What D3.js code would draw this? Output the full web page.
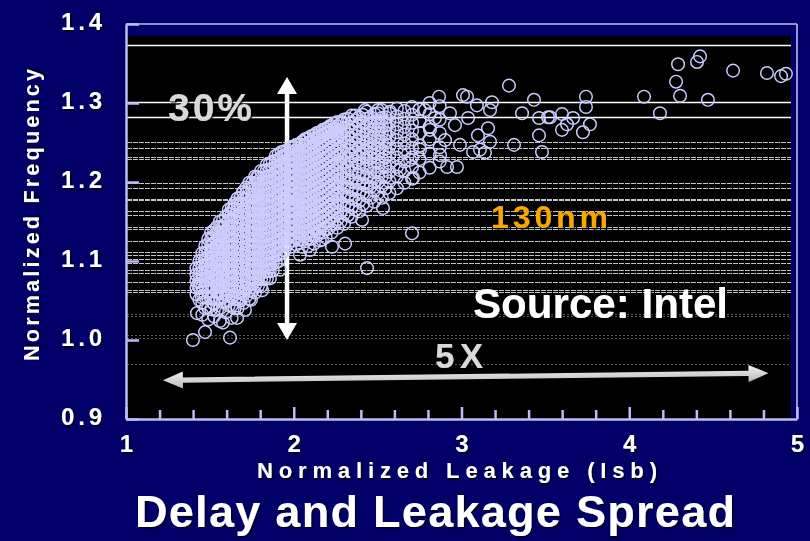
<!DOCTYPE html>
<html><head><meta charset="utf-8">
<script src="https://cdn.jsdelivr.net/npm/d3@7"></script>
<style>html,body{margin:0;padding:0;background:#000068;}svg{display:block}</style>
</head><body>
<svg id="chart" width="810" height="541"></svg>
<script>
// ---------- data ----------
const xTickLabels = [1, 2, 3, 4, 5];
const yTickValues = [0.9, 1.0, 1.1, 1.2, 1.3, 1.4];
const gridValues = [1.373, 1.301, 1.282, 1.250, 1.243, 1.232, 1.229, 1.199, 1.192, 1.179, 1.177,
  1.163, 1.158, 1.143, 1.141, 1.125, 1.111, 1.108, 1.102, 1.097, 1.088, 1.085, 1.074, 1.063,
  1.061, 1.033, 1.031, 1.006, 1.003, 0.969];

// dense part of the cloud, grouped by leakage column
const columnLeakage = [1.42, 1.455, 1.49, 1.525, 1.56, 1.595, 1.63, 1.665, 1.70, 1.735, 1.77, 1.805,
  1.84, 1.875, 1.91, 1.945, 1.98, 2.015, 2.05, 2.085, 2.12, 2.155, 2.19, 2.225, 2.26, 2.30, 2.345,
  2.39, 2.435, 2.48, 2.525, 2.57, 2.615, 2.66, 2.705, 2.75, 2.81, 2.87,
  1.4375, 1.4725, 1.5075, 1.5425, 1.5775, 1.6125, 1.6475, 1.6825, 1.7175, 1.7525, 1.7875, 1.8225,
  1.8575, 1.8925, 1.9275, 1.9625, 1.9975, 2.0325, 2.0675, 2.1025, 2.1375, 2.1725, 2.2075, 2.2425,
  2.28, 2.3225, 2.3675, 2.4125, 2.4575, 2.5025, 2.5475];
const columnFrequency = [
  [1.058, 1.066, 1.075, 1.083, 1.091],
  [1.032, 1.047, 1.060, 1.068, 1.076, 1.085, 1.093, 1.101, 1.110],
  [1.026, 1.041, 1.053, 1.062, 1.070, 1.078, 1.087, 1.095, 1.103, 1.112, 1.121, 1.128],
  [1.030, 1.046, 1.057, 1.065, 1.074, 1.082, 1.090, 1.098, 1.107, 1.115, 1.123, 1.132, 1.139],
  [1.024, 1.040, 1.052, 1.061, 1.069, 1.077, 1.086, 1.094, 1.102, 1.110, 1.118, 1.127, 1.135, 1.143, 1.150],
  [1.035, 1.048, 1.057, 1.065, 1.073, 1.081, 1.090, 1.098, 1.106, 1.114, 1.122, 1.131, 1.139, 1.147, 1.156],
  [1.028, 1.044, 1.054, 1.062, 1.070, 1.078, 1.086, 1.094, 1.102, 1.110, 1.118, 1.126, 1.134, 1.143, 1.151, 1.159, 1.167],
  [1.040, 1.052, 1.060, 1.068, 1.076, 1.084, 1.092, 1.100, 1.108, 1.116, 1.124, 1.132, 1.140, 1.148, 1.156, 1.164, 1.172, 1.179],
  [1.047, 1.058, 1.066, 1.074, 1.082, 1.090, 1.098, 1.106, 1.114, 1.122, 1.130, 1.138, 1.146, 1.154, 1.162, 1.170, 1.178, 1.187],
  [1.052, 1.063, 1.071, 1.079, 1.087, 1.095, 1.103, 1.111, 1.119, 1.127, 1.135, 1.143, 1.151, 1.159, 1.167, 1.175, 1.183, 1.191, 1.199],
  [1.060, 1.070, 1.078, 1.086, 1.094, 1.102, 1.110, 1.118, 1.126, 1.134, 1.142, 1.150, 1.158, 1.166, 1.174, 1.182, 1.190, 1.198, 1.207],
  [1.068, 1.077, 1.085, 1.093, 1.101, 1.109, 1.117, 1.125, 1.133, 1.141, 1.149, 1.157, 1.165, 1.173, 1.181, 1.189, 1.197, 1.205, 1.214],
  [1.078, 1.087, 1.095, 1.103, 1.111, 1.119, 1.127, 1.135, 1.143, 1.151, 1.159, 1.167, 1.175, 1.183, 1.191, 1.199, 1.207, 1.215, 1.222],
  [1.088, 1.097, 1.105, 1.113, 1.121, 1.129, 1.137, 1.145, 1.153, 1.161, 1.169, 1.177, 1.185, 1.193, 1.201, 1.209, 1.217, 1.226],
  [1.100, 1.108, 1.116, 1.124, 1.132, 1.140, 1.148, 1.156, 1.164, 1.172, 1.180, 1.188, 1.196, 1.204, 1.212, 1.220, 1.228, 1.235],
  [1.113, 1.121, 1.129, 1.137, 1.145, 1.153, 1.161, 1.169, 1.177, 1.185, 1.193, 1.201, 1.209, 1.217, 1.225, 1.233, 1.239],
  [1.118, 1.126, 1.134, 1.142, 1.150, 1.158, 1.166, 1.174, 1.182, 1.190, 1.198, 1.206, 1.214, 1.222, 1.230, 1.238, 1.244],
  [1.121, 1.129, 1.137, 1.145, 1.153, 1.161, 1.169, 1.177, 1.185, 1.193, 1.201, 1.209, 1.217, 1.225, 1.233, 1.240, 1.247],
  [1.118, 1.127, 1.135, 1.143, 1.151, 1.159, 1.167, 1.175, 1.183, 1.191, 1.199, 1.207, 1.215, 1.223, 1.231, 1.239, 1.246, 1.251],
  [1.119, 1.129, 1.137, 1.145, 1.153, 1.161, 1.169, 1.177, 1.185, 1.193, 1.201, 1.209, 1.217, 1.225, 1.233, 1.241, 1.249, 1.255],
  [1.122, 1.133, 1.141, 1.149, 1.157, 1.165, 1.173, 1.181, 1.189, 1.197, 1.205, 1.213, 1.221, 1.229, 1.237, 1.245, 1.253, 1.259],
  [1.126, 1.137, 1.145, 1.153, 1.161, 1.169, 1.177, 1.185, 1.193, 1.201, 1.209, 1.217, 1.225, 1.233, 1.241, 1.249, 1.257, 1.263],
  [1.130, 1.141, 1.150, 1.158, 1.166, 1.174, 1.182, 1.190, 1.198, 1.206, 1.214, 1.222, 1.230, 1.238, 1.246, 1.254, 1.261, 1.267],
  [1.136, 1.147, 1.156, 1.164, 1.172, 1.180, 1.188, 1.196, 1.204, 1.212, 1.220, 1.228, 1.236, 1.244, 1.252, 1.259, 1.265, 1.271],
  [1.142, 1.153, 1.162, 1.170, 1.178, 1.186, 1.194, 1.202, 1.210, 1.218, 1.226, 1.234, 1.242, 1.250, 1.257, 1.264, 1.270, 1.276],
  [1.147, 1.160, 1.171, 1.182, 1.193, 1.204, 1.215, 1.226, 1.237, 1.248, 1.258, 1.268, 1.279],
  [1.156, 1.168, 1.179, 1.190, 1.201, 1.212, 1.223, 1.234, 1.245, 1.255, 1.265, 1.275, 1.284],
  [1.163, 1.176, 1.187, 1.198, 1.209, 1.220, 1.231, 1.242, 1.253, 1.263, 1.273, 1.282],
  [1.170, 1.183, 1.195, 1.206, 1.217, 1.228, 1.239, 1.250, 1.260, 1.270, 1.280, 1.289],
  [1.175, 1.189, 1.201, 1.212, 1.223, 1.234, 1.245, 1.256, 1.266, 1.276, 1.286],
  [1.180, 1.195, 1.207, 1.218, 1.229, 1.240, 1.251, 1.261, 1.271, 1.281, 1.291],
  [1.186, 1.201, 1.213, 1.224, 1.235, 1.246, 1.257, 1.267, 1.277, 1.287],
  [1.192, 1.207, 1.219, 1.231, 1.242, 1.253, 1.263, 1.273, 1.283, 1.293],
  [1.199, 1.214, 1.226, 1.238, 1.249, 1.260, 1.270, 1.280, 1.290],
  [1.204, 1.219, 1.231, 1.243, 1.254, 1.265, 1.275, 1.285, 1.295],
  [1.212, 1.229, 1.246, 1.262, 1.277, 1.292],
  [1.218, 1.236, 1.254, 1.270, 1.286, 1.300],
  [1.226, 1.244, 1.262, 1.279, 1.296],
  // interleaved columns
  [1.051, 1.066, 1.074, 1.083, 1.091, 1.100],
  [1.040, 1.054, 1.068, 1.076, 1.085, 1.093, 1.101, 1.110, 1.119],
  [1.039, 1.053, 1.062, 1.070, 1.078, 1.087, 1.095, 1.103, 1.111, 1.120, 1.128, 1.136],
  [1.038, 1.052, 1.060, 1.069, 1.077, 1.086, 1.094, 1.102, 1.110, 1.118, 1.127, 1.135, 1.143],
  [1.048, 1.060, 1.069, 1.077, 1.085, 1.094, 1.102, 1.110, 1.118, 1.126, 1.135, 1.143, 1.151],
  [1.044, 1.056, 1.062, 1.070, 1.078, 1.086, 1.094, 1.102, 1.110, 1.118, 1.126, 1.134, 1.142, 1.151, 1.159, 1.165],
  [1.040, 1.052, 1.062, 1.070, 1.078, 1.086, 1.094, 1.102, 1.110, 1.118, 1.126, 1.134, 1.142, 1.150, 1.158, 1.166, 1.173],
  [1.050, 1.060, 1.068, 1.076, 1.084, 1.092, 1.100, 1.108, 1.116, 1.124, 1.132, 1.140, 1.148, 1.156, 1.164, 1.172, 1.180],
  [1.056, 1.066, 1.074, 1.082, 1.090, 1.098, 1.106, 1.114, 1.122, 1.130, 1.138, 1.146, 1.154, 1.162, 1.170, 1.178, 1.186, 1.193],
  [1.062, 1.071, 1.079, 1.087, 1.095, 1.103, 1.111, 1.119, 1.127, 1.135, 1.143, 1.151, 1.159, 1.167, 1.175, 1.183, 1.191, 1.199],
  [1.069, 1.078, 1.086, 1.094, 1.102, 1.110, 1.118, 1.126, 1.134, 1.142, 1.150, 1.158, 1.166, 1.174, 1.182, 1.190, 1.198, 1.206],
  [1.078, 1.086, 1.094, 1.102, 1.110, 1.118, 1.126, 1.134, 1.142, 1.150, 1.158, 1.166, 1.174, 1.182, 1.190, 1.198, 1.206, 1.214],
  [1.087, 1.096, 1.104, 1.112, 1.120, 1.128, 1.136, 1.144, 1.152, 1.160, 1.168, 1.176, 1.184, 1.192, 1.200, 1.208, 1.216, 1.223],
  [1.098, 1.107, 1.115, 1.123, 1.131, 1.139, 1.147, 1.155, 1.163, 1.171, 1.179, 1.187, 1.195, 1.203, 1.211, 1.219, 1.227, 1.233],
  [1.110, 1.120, 1.128, 1.136, 1.144, 1.152, 1.160, 1.168, 1.176, 1.184, 1.192, 1.200, 1.208, 1.216, 1.224, 1.232, 1.238],
  [1.121, 1.129, 1.137, 1.145, 1.153, 1.161, 1.169, 1.177, 1.185, 1.193, 1.201, 1.209, 1.217, 1.225, 1.233, 1.240],
  [1.126, 1.134, 1.142, 1.150, 1.158, 1.166, 1.174, 1.182, 1.190, 1.198, 1.206, 1.214, 1.222, 1.230, 1.238, 1.245],
  [1.127, 1.135, 1.143, 1.151, 1.159, 1.167, 1.175, 1.183, 1.191, 1.199, 1.207, 1.215, 1.223, 1.231, 1.239, 1.247],
  [1.125, 1.135, 1.143, 1.151, 1.159, 1.167, 1.175, 1.183, 1.191, 1.199, 1.207, 1.215, 1.223, 1.231, 1.239, 1.247, 1.254],
  [1.128, 1.139, 1.147, 1.155, 1.163, 1.171, 1.179, 1.187, 1.195, 1.203, 1.211, 1.219, 1.227, 1.235, 1.243, 1.251, 1.258],
  [1.132, 1.143, 1.151, 1.159, 1.167, 1.175, 1.183, 1.191, 1.199, 1.207, 1.215, 1.223, 1.231, 1.239, 1.247, 1.255, 1.262],
  [1.136, 1.147, 1.155, 1.163, 1.171, 1.179, 1.187, 1.195, 1.203, 1.211, 1.219, 1.227, 1.235, 1.243, 1.251, 1.259, 1.266],
  [1.141, 1.152, 1.160, 1.168, 1.176, 1.184, 1.192, 1.200, 1.208, 1.216, 1.224, 1.232, 1.240, 1.248, 1.256, 1.263, 1.269],
  [1.147, 1.158, 1.166, 1.174, 1.182, 1.190, 1.198, 1.206, 1.214, 1.222, 1.230, 1.238, 1.246, 1.254, 1.262, 1.268, 1.274],
  [1.150, 1.162, 1.174, 1.186, 1.198, 1.210, 1.222, 1.233, 1.244, 1.254, 1.264, 1.274],
  [1.158, 1.170, 1.182, 1.194, 1.206, 1.218, 1.229, 1.240, 1.250, 1.260, 1.270, 1.280],
  [1.165, 1.178, 1.190, 1.202, 1.214, 1.226, 1.237, 1.248, 1.258, 1.268, 1.278],
  [1.172, 1.186, 1.198, 1.210, 1.222, 1.234, 1.245, 1.255, 1.265, 1.275, 1.285],
  [1.180, 1.194, 1.206, 1.218, 1.230, 1.241, 1.252, 1.262, 1.272, 1.282],
  [1.186, 1.200, 1.212, 1.224, 1.236, 1.247, 1.257, 1.267, 1.277, 1.287],
  [1.192, 1.207, 1.219, 1.231, 1.242, 1.252, 1.262, 1.272, 1.282]
];

// scattered individual chips [leakage, frequency]
const scatteredPoints = [
  [1.399, 1.000], [1.471, 1.010], [1.620, 1.003], [1.423, 1.034], [1.453, 1.054], [1.519, 1.047],
  [1.578, 1.022], [1.662, 1.028], [1.429, 1.070], [1.459, 1.082], [1.709, 1.038], [1.745, 1.051],
  [1.781, 1.206], [1.697, 1.187], [1.638, 1.165], [1.578, 1.143], [1.513, 1.114], [1.471, 1.101],
  [2.407, 1.152], [2.306, 1.122], [2.228, 1.118], [2.437, 1.091], [2.705, 1.135], [2.532, 1.167],
  [2.711, 1.205], [2.914, 1.219], [2.973, 1.219], [2.168, 1.127], [2.037, 1.108], [2.097, 1.114],
  [1.918, 1.089], [1.858, 1.078], [1.811, 1.063],
  [2.073, 1.254], [2.145, 1.259], [2.288, 1.276], [2.216, 1.271], [2.365, 1.284], [2.425, 1.291],
  [2.502, 1.291], [2.574, 1.289],
  [2.866, 1.308], [3.009, 1.310], [3.033, 1.308], [3.092, 1.297], [3.182, 1.301], [3.170, 1.291],
  [3.110, 1.241], [3.140, 1.237], [3.170, 1.251], [3.069, 1.238], [3.158, 1.268], [3.098, 1.259],
  [3.039, 1.281], [2.961, 1.272], [2.902, 1.253], [2.991, 1.247], [2.931, 1.287], [2.842, 1.281],
  [2.782, 1.291], [2.812, 1.266], [2.872, 1.234], [2.753, 1.241], [2.693, 1.228], [2.633, 1.215],
  [3.283, 1.322], [3.432, 1.304], [3.361, 1.287], [3.462, 1.281], [3.516, 1.282], [3.528, 1.282],
  [3.599, 1.286], [3.665, 1.281], [3.629, 1.273], [3.599, 1.266], [3.766, 1.273], [3.724, 1.263],
  [3.742, 1.308], [3.742, 1.295], [3.462, 1.259], [3.480, 1.238], [3.313, 1.247],
  [4.088, 1.308], [4.183, 1.287], [4.291, 1.349], [4.279, 1.327], [4.303, 1.309], [4.404, 1.352],
  [4.422, 1.359], [4.469, 1.304], [4.619, 1.341], [4.821, 1.338], [4.905, 1.334], [4.934, 1.337]
];

const titleText = "Delay and Leakage Spread";
const xTitle = "Normalized Leakage (Isb)";
const yTitle = "Normalized Frequency";

// ---------- drawing ----------
const FONT = "Arial, 'Liberation Sans', sans-serif";
const AXIS = "#bcbcf4";
const svg = d3.select("#chart");
const x = d3.scaleLinear().domain([1, 5]).range([126, 797]);
const y = d3.scaleLinear().domain([0.9, 1.4]).range([419, 24]);

const defs = svg.append("defs");
const flt = defs.append("filter").attr("id", "sh").attr("x", "-10%").attr("y", "-20%").attr("width", "130%").attr("height", "150%");
flt.append("feDropShadow").attr("dx", 1.5).attr("dy", 1.5).attr("stdDeviation", 0.5)
  .attr("flood-color", "#000").attr("flood-opacity", 0.8);
const grad = defs.append("linearGradient").attr("id", "hg").attr("x1", 0).attr("x2", 0).attr("y1", 0).attr("y2", 1);
grad.append("stop").attr("offset", "0%").attr("stop-color", "#f2f2f2");
grad.append("stop").attr("offset", "100%").attr("stop-color", "#b8b8b8");

svg.append("rect").attr("width", 810).attr("height", 541).attr("fill", "#000068");

// plot frame
svg.append("rect").attr("x", 126).attr("y", 36).attr("width", 665).attr("height", 383).attr("fill", "#000");
svg.append("line").attr("x1", x(1)).attr("x2", x(5)).attr("y1", y(1.4)).attr("y2", y(1.4))
  .attr("stroke", AXIS).attr("stroke-width", 1.3);
svg.append("line").attr("x1", x(5)).attr("x2", x(5)).attr("y1", y(1.4)).attr("y2", y(0.9))
  .attr("stroke", AXIS).attr("stroke-width", 1.6);

// grid lines
function gridStyle(v) {
  if (v >= 1.27) return { c: "#ffffff", w: 1.3, d: null };
  if (v >= 1.055) return { c: "#c4c4c4", w: 1, d: "5,1" };
  return { c: "#5a5a5a", w: 1, d: "2,2" };
}
svg.append("g").selectAll("line").data(gridValues).join("line")
  .attr("x1", 127).attr("x2", 791)
  .attr("y1", d => Math.round(y(d)) + 0.5).attr("y2", d => Math.round(y(d)) + 0.5)
  .attr("stroke", d => gridStyle(d).c).attr("stroke-width", d => gridStyle(d).w)
  .attr("stroke-dasharray", d => gridStyle(d).d);

// y axis
const yAxis = d3.axisLeft(y).tickValues(yTickValues).tickSizeInner(-13).tickSizeOuter(0)
  .tickPadding(24).tickFormat(d3.format(".1f"));
const gy = svg.append("g").attr("transform", `translate(${x(1)},0)`).call(yAxis);
gy.select(".domain").attr("stroke", AXIS).attr("stroke-width", 2.5);
gy.selectAll(".tick line").attr("stroke", AXIS).attr("stroke-width", 2.5);
gy.selectAll(".tick text").attr("fill", "#fff").attr("font-size", 24).attr("font-weight", "bold")
  .attr("font-family", FONT).attr("dy", "0.23em").attr("textLength", 41).attr("lengthAdjust", "spacing")
  .attr("filter", "url(#sh)");

// x axis
const xTickAll = d3.range(10, 51, 2).map(d => d / 10);
const xAxis = d3.axisBottom(x).tickValues(xTickAll).tickSizeInner(-9).tickSizeOuter(0)
  .tickPadding(16).tickFormat(d => xTickLabels.includes(d) ? String(d) : "");
const gx = svg.append("g").attr("transform", `translate(0,${y(0.9)})`).call(xAxis);
gx.select(".domain").attr("stroke", AXIS).attr("stroke-width", 2.5);
gx.selectAll(".tick line").attr("stroke", AXIS).attr("stroke-width", 2.5)
  .attr("y2", d => xTickLabels.includes(d) ? -12 : -9);
gx.selectAll(".tick text").attr("fill", "#fff").attr("font-size", 24).attr("font-weight", "bold")
  .attr("font-family", FONT).attr("filter", "url(#sh)");

// vertical 30% arrow (under the chips)
function vArrow(g, xc, yTop, yBot, head, hw, sw, fill) {
  const p = `M${xc - sw / 2},${yTop + head} L${xc - hw},${yTop + head} L${xc},${yTop} L${xc + hw},${yTop + head} L${xc + sw / 2},${yTop + head}
    L${xc + sw / 2},${yBot - head} L${xc + hw},${yBot - head} L${xc},${yBot} L${xc - hw},${yBot - head} L${xc - sw / 2},${yBot - head} Z`;
  g.append("path").attr("d", p).attr("fill", fill);
}
vArrow(svg, x(1.96), y(1.333), y(1.0), 17, 10, 4.5, "#ffffff");

// horizontal 5X arrow
(function () {
  const x0 = x(1.22), x1 = x(4.83), y0 = y(0.949), y1 = y(0.958);
  const head = 20, hw = 8.5, sw = 2.6;
  const ang = Math.atan2(y1 - y0, x1 - x0);
  const len = Math.hypot(x1 - x0, y1 - y0);
  const g = svg.append("g").attr("transform", `translate(${x0},${y0}) rotate(${ang * 180 / Math.PI})`);
  g.append("path").attr("d",
    `M0,0 L${head},${-hw} L${head},${-sw} L${len - head},${-sw} L${len - head},${-hw} L${len},0 L${len - head},${hw} L${len - head},${sw} L${head},${sw} L${head},${hw} Z`)
    .attr("fill", "url(#hg)");
})();

// chips
const allPoints = [];
columnLeakage.forEach((lx, i) => columnFrequency[i].forEach(f => allPoints.push([lx, f])));
scatteredPoints.forEach(p => allPoints.push(p));
svg.append("g").selectAll("circle").data(allPoints).join("circle")
  .attr("cx", d => x(d[0])).attr("cy", d => y(d[1])).attr("r", 6.3)
  .attr("fill", "none").attr("stroke", "#ccccff").attr("stroke-width", 1.45);

// annotations
function label(txt, xp, yp, size, color, len, anchor) {
  return svg.append("text").attr("x", xp).attr("y", yp).text(txt)
    .attr("font-family", FONT).attr("font-weight", "bold").attr("font-size", size)
    .attr("fill", color).attr("text-anchor", anchor || "start")
    .attr("textLength", len).attr("lengthAdjust", "spacing").attr("filter", "url(#sh)");
}
label("30%", 168, 121, 39, "#d9d9d9", 84);
label("130nm", 491, 228, 32, "#f7a800", 117);
label("Source: Intel", 473, 318, 42, "#ffffff", 255);
label("5X", 435, 368, 35, "#d9d9d9", 48);

// axis titles and title
label(xTitle, 257, 478, 22, "#ffffff", 400);
svg.append("text").attr("transform", "translate(39,215) rotate(-90)").text(yTitle)
  .attr("font-family", FONT).attr("font-weight", "bold").attr("font-size", 21.5)
  .attr("fill", "#fff").attr("text-anchor", "middle")
  .attr("textLength", 292).attr("lengthAdjust", "spacing").attr("filter", "url(#sh)");
label(titleText, 135, 527, 45, "#ffffff", 600);
</script>
</body></html>
